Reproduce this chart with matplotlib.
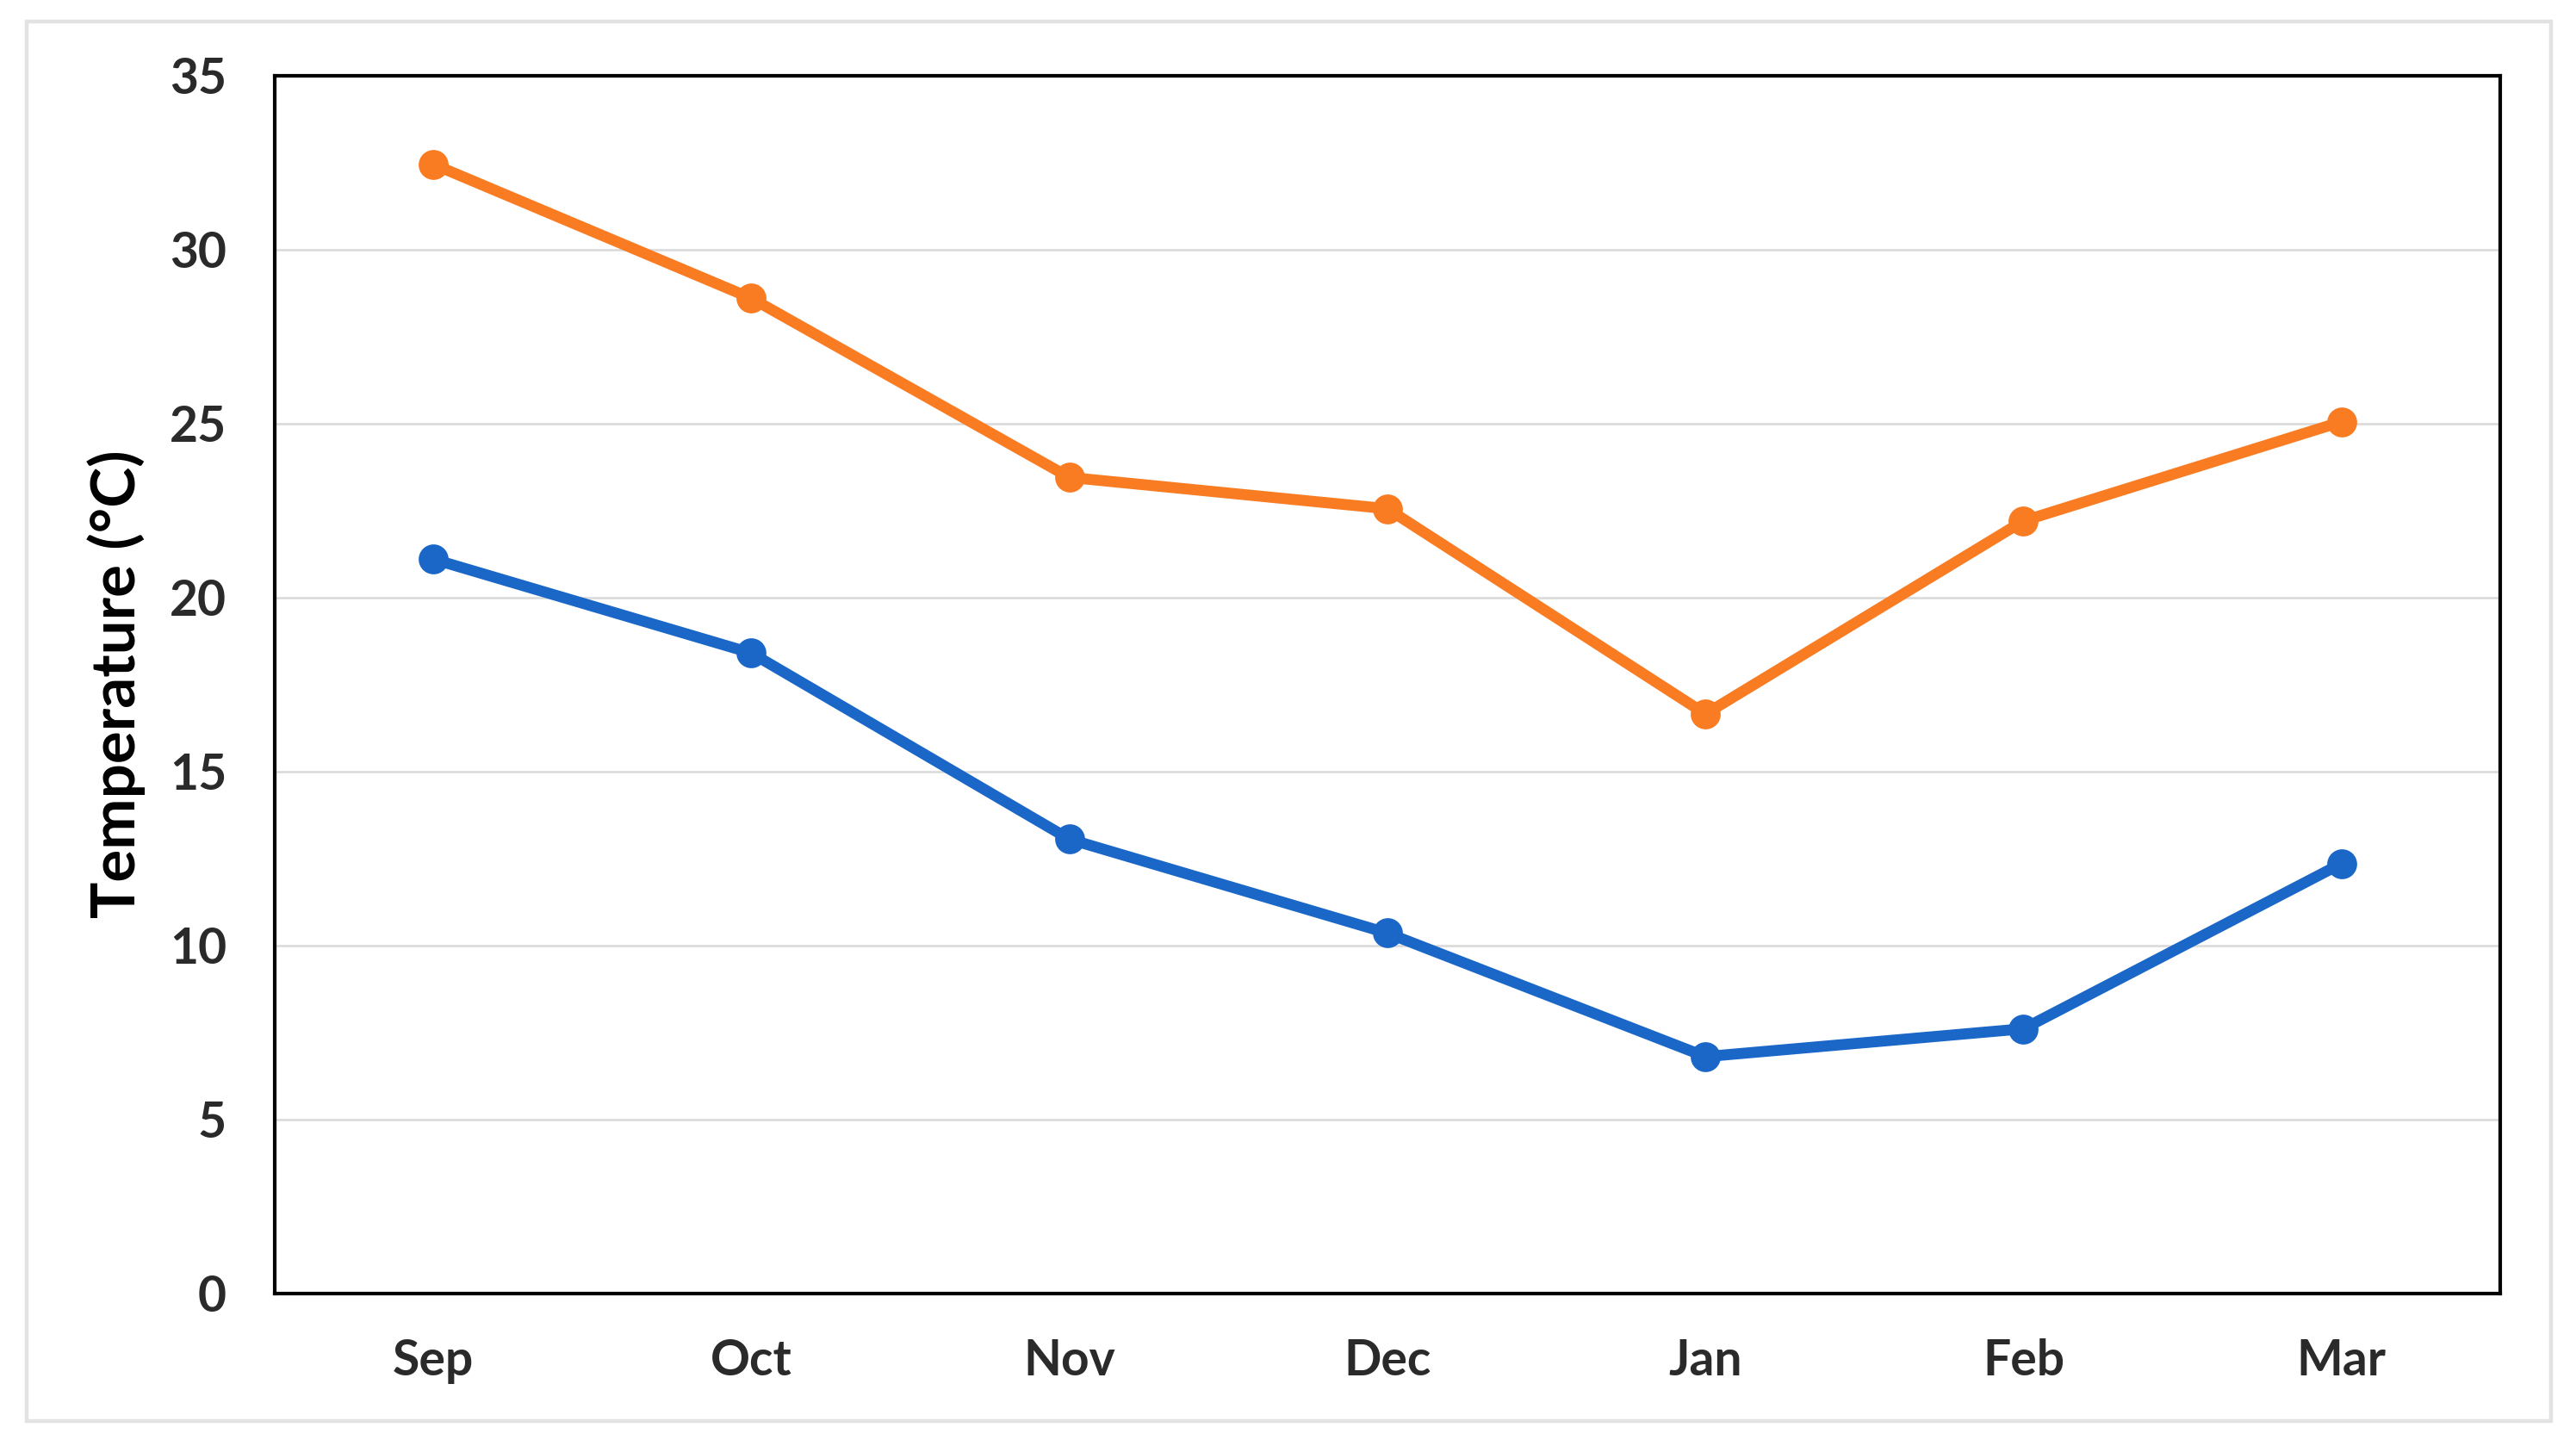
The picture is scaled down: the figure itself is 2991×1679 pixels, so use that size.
import matplotlib
matplotlib.use("Agg")
import matplotlib.pyplot as plt
from matplotlib.patches import Rectangle

months = ["Sep", "Oct", "Nov", "Dec", "Jan", "Feb", "Mar"]
max_temp = [32.45, 28.6, 23.45, 22.55, 16.65, 22.2, 25.05]
min_temp = [21.1, 18.4, 13.05, 10.35, 6.8, 7.6, 12.35]
yticks = [0, 5, 10, 15, 20, 25, 30, 35]

plt.rcParams['font.family'] = ['Lato', 'DejaVu Sans']

fig = plt.figure(figsize=(14.955, 8.395), dpi=200)
fig.patch.set_facecolor('white')
fig.patches.append(Rectangle((0.0102, 0.017), 0.9802, 0.9682, transform=fig.transFigure,
                             fill=False, edgecolor='#e2e2e2', linewidth=1.6, zorder=0))

ax = fig.add_axes([0.1065, 0.1057, 0.8642, 0.8420])
x = list(range(len(months)))
ax.plot(x, max_temp, color='#F97B22', lw=4.6, marker='o', ms=11.5, zorder=3,
        solid_capstyle='round')
ax.plot(x, min_temp, color='#1A67C8', lw=4.6, marker='o', ms=11.5, zorder=3,
        solid_capstyle='round')

ax.set_xlim(-0.5, len(months) - 0.5)
ax.set_ylim(0, 35)
ax.set_yticks(yticks)
ax.set_xticks(x)
ax.set_xticklabels(months)
ax.yaxis.grid(True, color='#d9d9d9', lw=0.9)
ax.set_axisbelow(True)
for s in ax.spines.values():
    s.set_color('black')
    s.set_linewidth(1.5)
ax.tick_params(axis='both', length=0, labelsize=20.5, labelcolor='#2a2a2a')
ax.tick_params(axis='y', pad=20)
ax.tick_params(axis='x', pad=19)
for lab in ax.get_xticklabels() + ax.get_yticklabels():
    lab.set_fontweight('bold')
ax.set_ylabel("Temperature (°C)", fontsize=25.5, fontweight='bold', color='black')
ax.yaxis.set_label_coords(-0.058, 0.5)

fig.savefig("out.png", dpi=200, facecolor='white')
